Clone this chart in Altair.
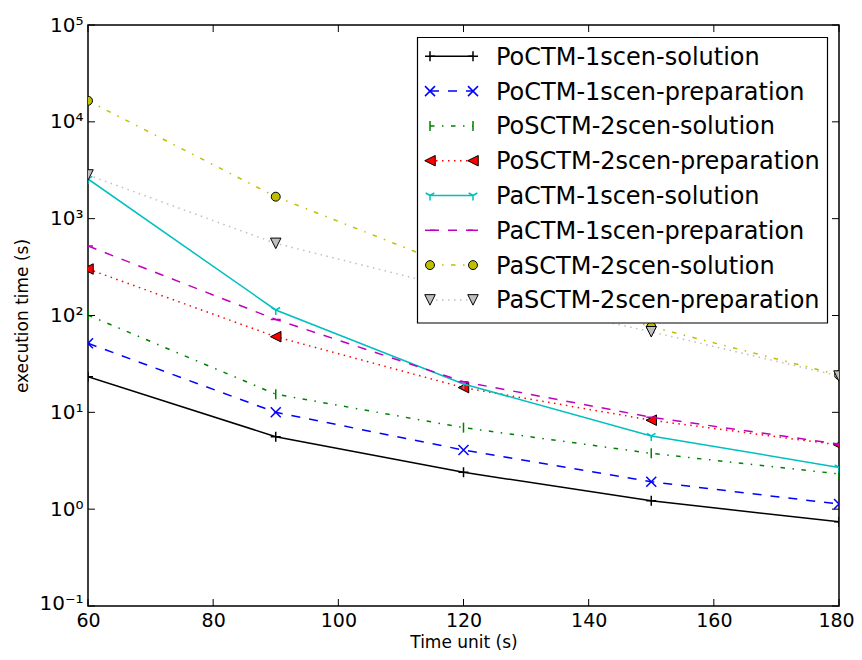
import altair as alt
import pandas as pd

# ---------------- data ----------------
time_unit = [60, 90, 120, 150, 180]

series_names = [
    "PoCTM-1scen-solution",
    "PoCTM-1scen-preparation",
    "PoSCTM-2scen-solution",
    "PoSCTM-2scen-preparation",
    "PaCTM-1scen-solution",
    "PaCTM-1scen-preparation",
    "PaSCTM-2scen-solution",
    "PaSCTM-2scen-preparation",
]

PoCTM_1scen_solution = [23.3, 5.6, 2.4, 1.22, 0.74]
PoCTM_1scen_preparation = [51.6, 10.0, 4.08, 1.92, 1.13]
PoSCTM_2scen_solution = [101, 15.4, 6.95, 3.77, 2.31]
PoSCTM_2scen_preparation = [302, 60.4, 18.0, 8.3, 4.6]
PaCTM_1scen_solution = [2570, 114, 19.6, 5.7, 2.7]
PaCTM_1scen_preparation = [522, 91, 20.7, 8.9, 4.7]
PaSCTM_2scen_solution = [16500, 1686, 290, 76.6, 24.3]
PaSCTM_2scen_preparation = [2826, 556, 181, 68, 23.7]

series_values = [
    PoCTM_1scen_solution,
    PoCTM_1scen_preparation,
    PoSCTM_2scen_solution,
    PoSCTM_2scen_preparation,
    PaCTM_1scen_solution,
    PaCTM_1scen_preparation,
    PaSCTM_2scen_solution,
    PaSCTM_2scen_preparation,
]

x_ticks = [60, 80, 100, 120, 140, 160, 180]
y_ticks = [0.1, 1, 10, 100, 1000, 10000, 100000]

# ---------------- styles ----------------
PLUS = "M-1,0L1,0M0,-1L0,1"
CROSS = "M-1,-1L1,1M-1,1L1,-1"
VLINE = "M0,-1L0,1"
HLINE = "M-1,0L1,0"
TRI_LEFT = "M-1,0L1,-1L1,1Z"
TRI_DOWN = "M-1,-1L1,-1L0,1Z"
TRI_DOWN_ARMS = "M0,0L0,1M0,0L-0.866,-0.5M0,0L0.866,-0.5"

DASHED = [9, 9]
DASHDOT = [4.5, 7.5, 1.5, 7.5]
DOTTED = [1.5, 4.5]

styles = [
    dict(color="#000000", dash=None, shape=PLUS, filled=False, size=100),
    dict(color="#0000ff", dash=DASHED, shape=CROSS, filled=False, size=100),
    dict(color="#008000", dash=DASHDOT, shape=VLINE, filled=False, size=100),
    dict(color="#ff0000", dash=DOTTED, shape=TRI_LEFT, filled=True, size=110),
    dict(color="#00bfbf", dash=None, shape=TRI_DOWN_ARMS, filled=False, size=100),
    dict(color="#bf00bf", dash=DASHED, shape=HLINE, filled=False, size=100),
    dict(color="#bfbf00", dash=DASHDOT, shape="circle", filled=True, size=80),
    dict(color="#bfbfbf", dash=DOTTED, shape=TRI_DOWN, filled=True, size=110),
]

W, H = 751, 581
FONT = "DejaVu Sans"

rows = []
for name, vals in zip(series_names, series_values):
    for t, v in zip(time_unit, vals):
        rows.append({"series": name, "t": t, "v": v})
df = pd.DataFrame(rows)

label_expr = ("'10' + ['\u207b\u00b9','\u2070','\u00b9','\u00b2','\u00b3','\u2074','\u2075']"
              "[round(log(datum.value)/LN10)+1]")

X = alt.X(
    "t:Q",
    scale=alt.Scale(domain=[60, 180], nice=False, zero=False),
    axis=alt.Axis(values=x_ticks, title="Time unit (s)", ticks=False, domain=False,
                  grid=False, labelFontSize=19, labelPadding=5, labelFont=FONT,
                  labelColor="black", titleFontSize=17, titleFont=FONT,
                  titleFontWeight="normal", titleColor="black", titlePadding=4,
                  labelFlush=False,
                  labelOffset={"condition": {"test": "datum.value == 180", "value": -3},
                               "value": 0}),
)
Y = alt.Y(
    "v:Q",
    scale=alt.Scale(type="log", domain=[0.1, 100000], nice=False),
    axis=alt.Axis(values=y_ticks, title="execution time (s)", ticks=False, domain=False,
                  grid=False, labelFontSize=20, labelPadding=5, labelFont=FONT,
                  labelColor="black", labelExpr=label_expr, titleFontSize=17,
                  titleFont=FONT, titleFontWeight="normal", titleColor="black",
                  titlePadding=7, labelFlush=False,
                  labelOffset={"condition": {"test": "datum.value < 0.5", "value": -3},
                               "value": 0}),
)

layers = []
for name, st in zip(series_names, styles):
    base = alt.Chart(df).transform_filter(alt.datum.series == name)
    line_kw = dict(color=st["color"], strokeWidth=1.5, clip=True)
    if st["dash"] is not None:
        line_kw["strokeDash"] = st["dash"]
    layers.append(base.mark_line(**line_kw).encode(x=X, y=Y))
    if st["filled"]:
        pt_kw = dict(shape=st["shape"], filled=True, fill=st["color"], stroke="black",
                     strokeWidth=1, size=st["size"], opacity=1, clip=True)
    else:
        pt_kw = dict(shape=st["shape"], filled=False, stroke=st["color"],
                     strokeWidth=1.5, size=st["size"], opacity=1, clip=True)
    layers.append(base.mark_point(**pt_kw).encode(x=X, y=Y))

# inward ticks on all four sides
xt = alt.Chart(pd.DataFrame({"t": x_ticks}))
yt = alt.Chart(pd.DataFrame({"v": y_ticks}))
TICK = 7
layers.append(xt.mark_rule(color="black", strokeWidth=1).encode(
    x=X, y=alt.value(H), y2=alt.value(H - TICK)))
layers.append(xt.mark_rule(color="black", strokeWidth=1).encode(
    x=X, y=alt.value(0), y2=alt.value(TICK)))
layers.append(yt.mark_rule(color="black", strokeWidth=1).encode(
    y=Y, x=alt.value(0), x2=alt.value(TICK)))
layers.append(yt.mark_rule(color="black", strokeWidth=1).encode(
    y=Y, x=alt.value(W), x2=alt.value(W - TICK)))

# legend
box = alt.Chart(pd.DataFrame({"k": [0]})).mark_rect(
    fill="white", stroke="black", strokeWidth=1.2).encode(
    x=alt.value(329.5), x2=alt.value(739.5), y=alt.value(12.5), y2=alt.value(298))
layers.append(box)

LX1, LX2, TX = 342, 385, 408
for i, (name, st) in enumerate(zip(series_names, styles)):
    yc = 31.3 + 34.8 * i
    ld = alt.Chart(pd.DataFrame({"label": [name]}))
    rule_kw = dict(color=st["color"], strokeWidth=1.5)
    if st["dash"] is not None:
        rule_kw["strokeDash"] = st["dash"]
    layers.append(ld.mark_rule(**rule_kw).encode(
        x=alt.value(LX1), x2=alt.value(LX2), y=alt.value(yc)))
    if st["filled"]:
        pt_kw = dict(shape=st["shape"], filled=True, fill=st["color"], stroke="black",
                     strokeWidth=1, size=st["size"], opacity=1)
    else:
        pt_kw = dict(shape=st["shape"], filled=False, stroke=st["color"],
                     strokeWidth=1.5, size=st["size"], opacity=1)
    for lx in (LX1, LX2):
        layers.append(ld.mark_point(**pt_kw).encode(x=alt.value(lx), y=alt.value(yc)))
    layers.append(ld.mark_text(align="left", baseline="alphabetic", fontSize=24,
                               font=FONT, color="black").encode(
        x=alt.value(TX), y=alt.value(yc + 8.5), text="label:N"))

chart = alt.layer(*layers).properties(
    width=W, height=H,
    autosize=alt.AutoSizeParams(type="none"),
    padding={"left": 80, "top": 17, "right": 15, "bottom": 46},
).configure_view(stroke="black", strokeWidth=1.5)

chart.save("out.html", embed_options={"renderer": "svg", "actions": False})
